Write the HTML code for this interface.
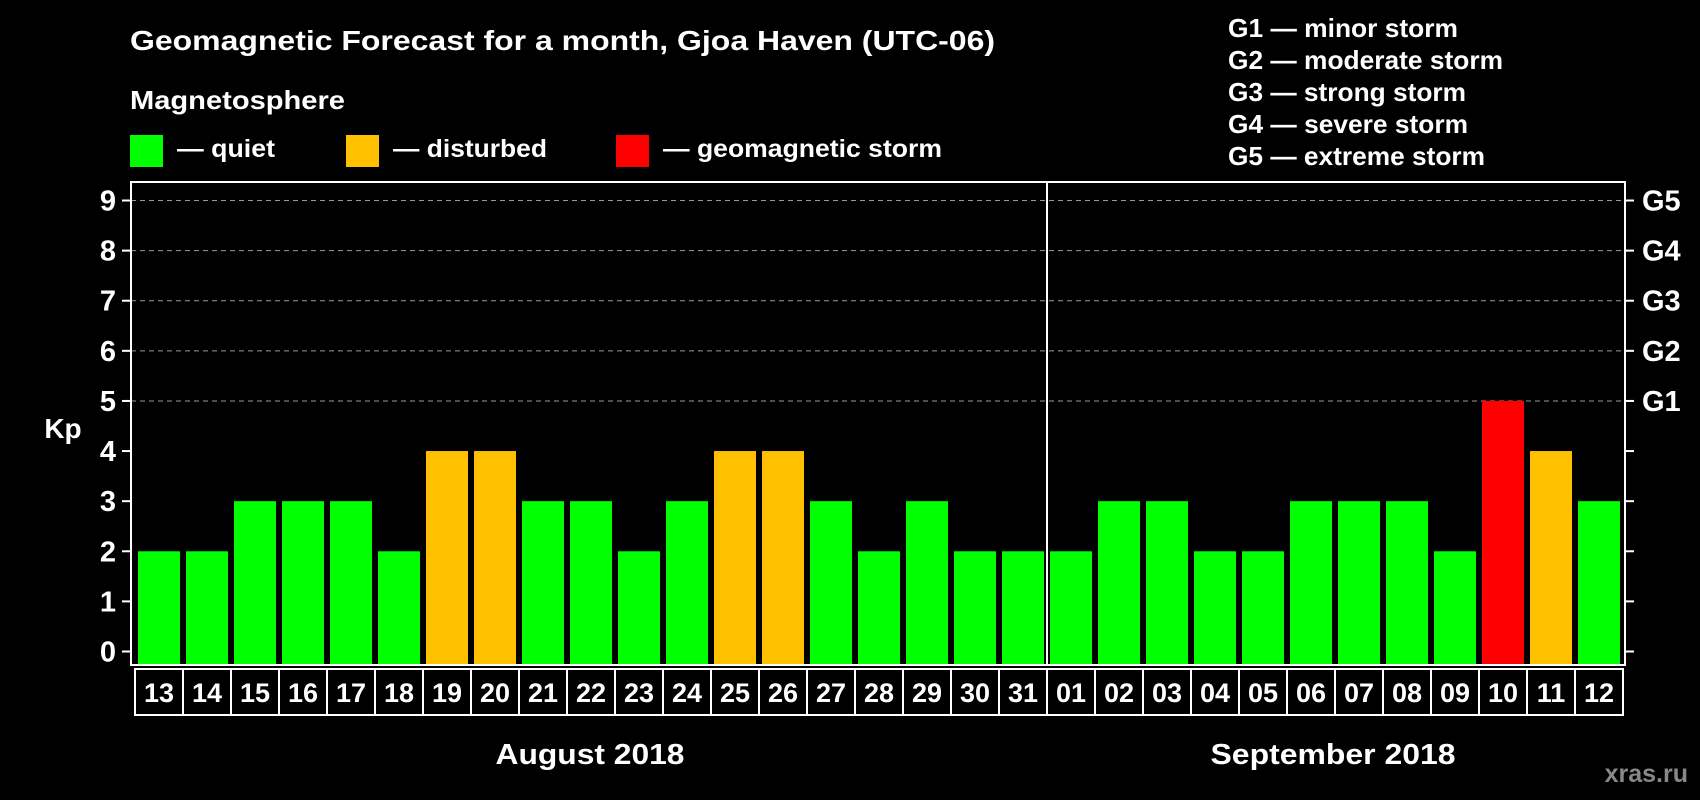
<!DOCTYPE html>
<html><head><meta charset="utf-8"><style>
html,body{margin:0;padding:0;background:#000;}
svg{display:block;font-family:"Liberation Sans",Arial,sans-serif;font-weight:bold;}
</style></head><body>
<svg id="chart" width="1700" height="800" viewBox="0 0 1700 800">
<rect x="0" y="0" width="1700" height="800" fill="#000"/>
<text x="130" y="50" font-size="28" fill="#fff" textLength="865" lengthAdjust="spacingAndGlyphs">Geomagnetic Forecast for a month, Gjoa Haven (UTC-06)</text>
<text x="130" y="109" font-size="26" fill="#fff" textLength="215" lengthAdjust="spacingAndGlyphs">Magnetosphere</text>
<rect x="130" y="135" width="33" height="32" fill="#00ff00"/>
<text x="177" y="157" font-size="25" fill="#fff" textLength="98" lengthAdjust="spacingAndGlyphs">— quiet</text>
<rect x="346" y="135" width="33" height="32" fill="#ffc000"/>
<text x="393" y="157" font-size="25" fill="#fff" textLength="154" lengthAdjust="spacingAndGlyphs">— disturbed</text>
<rect x="616" y="135" width="33" height="32" fill="#ff0000"/>
<text x="663" y="157" font-size="25" fill="#fff" textLength="279" lengthAdjust="spacingAndGlyphs">— geomagnetic storm</text>
<g font-size="26" fill="#fff">
<text x="1228" y="37" textLength="230" lengthAdjust="spacingAndGlyphs">G1 — minor storm</text>
<text x="1228" y="69" textLength="275" lengthAdjust="spacingAndGlyphs">G2 — moderate storm</text>
<text x="1228" y="101" textLength="238" lengthAdjust="spacingAndGlyphs">G3 — strong storm</text>
<text x="1228" y="133" textLength="240" lengthAdjust="spacingAndGlyphs">G4 — severe storm</text>
<text x="1228" y="165" textLength="257" lengthAdjust="spacingAndGlyphs">G5 — extreme storm</text>
</g>
<text x="63" y="438" font-size="28" fill="#fff" text-anchor="middle">Kp</text>
<g id="grid"></g>
<g id="bars"></g>
<rect x="131" y="182" width="1494" height="483" fill="none" stroke="#fff" stroke-width="2"/>
<line x1="1047" y1="182" x2="1047" y2="665" stroke="#fff" stroke-width="2"/>
<g id="dates"></g>
<text x="590" y="764" font-size="29" fill="#fff" text-anchor="middle" textLength="189" lengthAdjust="spacingAndGlyphs">August 2018</text>
<text x="1333" y="764" font-size="29" fill="#fff" text-anchor="middle" textLength="245" lengthAdjust="spacingAndGlyphs">September 2018</text>
<text x="1688" y="782" font-size="25" fill="#888" text-anchor="end">xras.ru</text>
</svg>
<script>
const days = ["13","14","15","16","17","18","19","20","21","22","23","24","25","26","27","28","29","30","31","01","02","03","04","05","06","07","08","09","10","11","12"];
const kpValues = [2,2,3,3,3,2,4,4,3,3,2,3,4,4,3,2,3,2,2,2,3,3,2,2,3,3,3,2,5,4,3];
const yTicks = [0,1,2,3,4,5,6,7,8,9];
const gLabels = ["","","","","","G1","G2","G3","G4","G5"];
const NS="http://www.w3.org/2000/svg";
function yS(v){return 651.5 - v*(451/9);}
function xS(i){return 138 + i*48;}
function mk(tag,attrs,parent){const e=document.createElementNS(NS,tag);for(const k in attrs)e.setAttribute(k,attrs[k]);parent.appendChild(e);return e;}
const grid=document.getElementById('grid'),bars=document.getElementById('bars'),dates=document.getElementById('dates');
yTicks.forEach((t,i)=>{
  const y=yS(t);
  if(t>=5){const g=mk('line',{x1:131,x2:1625,y1:y,y2:y,stroke:'#999','stroke-width':1,'stroke-dasharray':'5,4'},grid);
  
  }
  const l=mk('line',{x1:122,x2:131,y1:y,y2:y,stroke:'#fff','stroke-width':2},grid);
  
  
  const r=mk('line',{x1:1625,x2:1634,y1:y,y2:y,stroke:'#fff','stroke-width':2},grid);
  
  
  const tx=mk('text',{x:116,y:y+10,'font-size':29,fill:'#fff','text-anchor':'end'},grid);
  tx.textContent=t;
  
  
  if(gLabels[i]){const gt=mk('text',{x:1642,y:y+10,'font-size':29,fill:'#fff'},grid);
  gt.textContent=gLabels[i];
  
  }
});
kpValues.forEach((v,i)=>{
  const col=v>=5?'#ff0000':(v>=4?'#ffc000':'#00ff00');
  const b=mk('rect',{x:xS(i),y:yS(v),width:42,height:664-yS(v),fill:col},bars);
  
  
  const bx=mk('rect',{x:xS(i)-3,y:669,width:48,height:46,fill:'none',stroke:'#fff','stroke-width':2},dates);
  
  
  const t=mk('text',{x:xS(i)+21,y:702,'font-size':27,fill:'#fff','text-anchor':'middle'},dates);
  t.textContent=days[i];
  
  
});
</script>
</body></html>
